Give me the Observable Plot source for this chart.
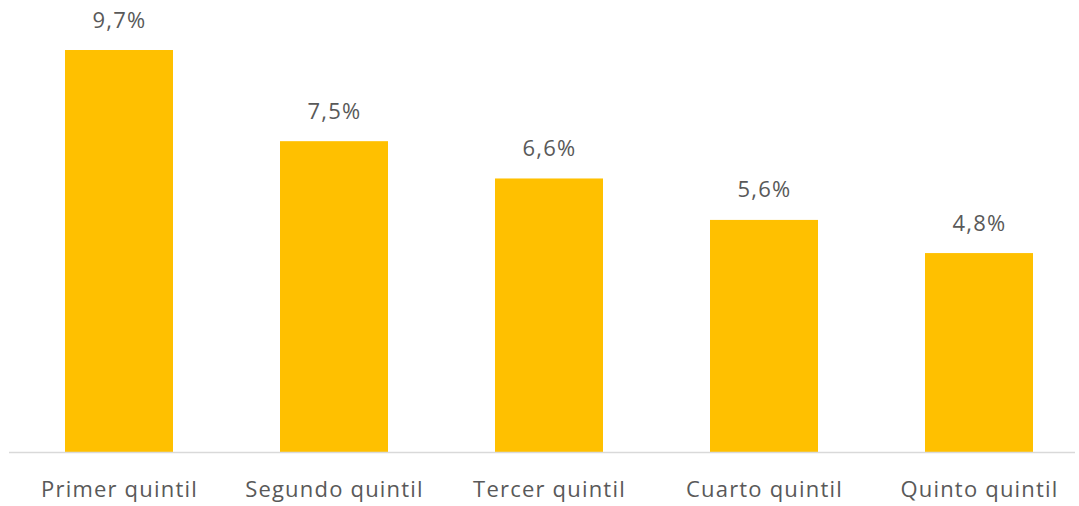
<!DOCTYPE html>
<html>
<head>
<meta charset="utf-8">
<script src="https://cdn.jsdelivr.net/npm/d3@7"></script>
<script src="https://cdn.jsdelivr.net/npm/@observablehq/plot@0.6"></script>
<style>
  html, body { margin: 0; padding: 0; background: #fff; }
  #chart { width: 1079px; height: 506px; }
  #chart svg text { letter-spacing: 1.2px; }
</style>
</head>
<body>
<div id="chart"></div>
<script>
const categories = ["Primer quintil", "Segundo quintil", "Tercer quintil", "Cuarto quintil", "Quinto quintil"];
const values = [9.7, 7.5, 6.6, 5.6, 4.8];
const labels = ["9,7%", "7,5%", "6,6%", "5,6%", "4,8%"];

const data = categories.map((c, i) => ({ category: c, value: values[i], label: labels[i] }));

const chart = Plot.plot({
  width: 1079,
  height: 506,
  marginTop: 50,
  marginBottom: 54,
  marginLeft: 9,
  marginRight: 4,
  style: { fontFamily: "'Open Sans', sans-serif", background: "#fff" },
  x: { domain: categories, range: [9, 1088], paddingInner: 0.5, paddingOuter: 0.25, label: null },
  y: { domain: [0, 9.7], axis: null },
  marks: [
    Plot.barY(data, { x: "category", y: "value", fill: "#FFC000" }),
    Plot.ruleY([0], { stroke: "#D9D9D9", strokeWidth: 1.5 }),
    Plot.text(data, { x: "category", y: "value", text: "label", dy: -30, lineAnchor: "middle", fontSize: 22, fill: "#595959" }),
    Plot.axisX({ tickSize: 0, tickPadding: 29, fontSize: 22, color: "#595959", label: null })
  ]
});
document.getElementById("chart").appendChild(chart);
</script>
</body>
</html>
